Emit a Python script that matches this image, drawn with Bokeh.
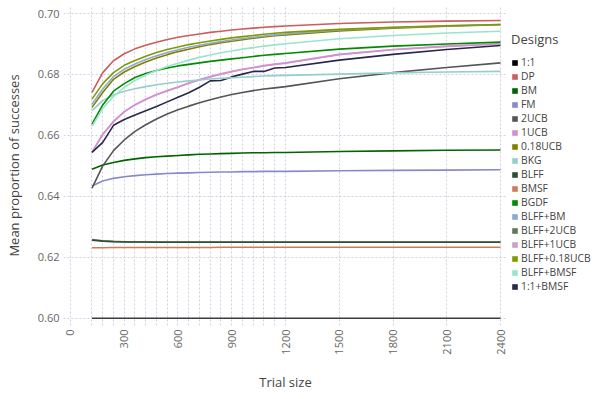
from bokeh.plotting import figure
from bokeh.layouts import row
from bokeh.models import FixedTicker, Legend, LegendItem, NumeralTickFormatter, Range1d, ColumnDataSource
from bokeh.embed import file_html
from bokeh.resources import INLINE

trial_size = [120, 180, 240, 300, 360, 420, 480, 540, 600, 660, 720, 780, 840, 900, 960, 1020, 1080, 1140, 1200, 1500, 1800, 2100, 2400]
x_ticks = [0, 300, 600, 900, 1200, 1500, 1800, 2100, 2400]
y_ticks = [0.60, 0.62, 0.64, 0.66, 0.68, 0.70]

s_1_1 = [0.600, 0.600, 0.600, 0.600, 0.600, 0.600, 0.600, 0.600, 0.600, 0.600, 0.600, 0.600, 0.600, 0.600, 0.600, 0.600, 0.600, 0.600, 0.600, 0.600, 0.600, 0.600, 0.600]
s_dp = [0.6741, 0.6806, 0.6845, 0.6868, 0.6884, 0.6896, 0.6906, 0.6915, 0.6922, 0.6928, 0.6933, 0.6938, 0.6942, 0.6946, 0.6949, 0.6952, 0.6955, 0.6957, 0.6959, 0.6967, 0.6972, 0.6975, 0.6977]
s_bm = [0.6489, 0.6503, 0.6511, 0.6518, 0.6523, 0.6527, 0.6530, 0.6532, 0.6534, 0.6536, 0.6538, 0.6539, 0.6540, 0.6541, 0.6542, 0.6543, 0.6543, 0.6544, 0.6544, 0.6547, 0.6549, 0.6551, 0.6552]
s_fm = [0.6434, 0.6450, 0.6459, 0.6464, 0.6468, 0.6471, 0.6473, 0.6475, 0.6476, 0.6477, 0.6478, 0.6479, 0.6480, 0.6480, 0.6481, 0.6481, 0.6482, 0.6482, 0.6482, 0.6484, 0.6485, 0.6486, 0.6487]
s_2ucb = [0.6427, 0.6500, 0.6550, 0.6585, 0.6613, 0.6635, 0.6654, 0.6670, 0.6684, 0.6696, 0.6707, 0.6717, 0.6726, 0.6734, 0.6741, 0.6747, 0.6752, 0.6756, 0.6760, 0.6786, 0.6806, 0.6823, 0.6838]
s_1ucb = [0.6544, 0.6603, 0.6645, 0.6677, 0.6700, 0.6718, 0.6733, 0.6746, 0.6758, 0.6771, 0.6782, 0.6792, 0.6801, 0.6809, 0.6816, 0.6822, 0.6828, 0.6833, 0.6837, 0.6865, 0.6881, 0.6892, 0.6900]
s_018ucb = [0.6692, 0.6741, 0.6784, 0.6808, 0.6826, 0.6841, 0.6854, 0.6865, 0.6875, 0.6883, 0.6891, 0.6898, 0.6904, 0.6909, 0.6914, 0.6919, 0.6923, 0.6927, 0.6930, 0.6943, 0.6952, 0.6958, 0.6963]
s_bkg = [0.6681, 0.6714, 0.6733, 0.6745, 0.6753, 0.6760, 0.6766, 0.6771, 0.6775, 0.6779, 0.6782, 0.6785, 0.6787, 0.6789, 0.6791, 0.6793, 0.6795, 0.6796, 0.6797, 0.6801, 0.6805, 0.6808, 0.6810]
s_blff = [0.6256, 0.6253, 0.6251, 0.6250, 0.6250, 0.6250, 0.6249, 0.6249, 0.6249, 0.6249, 0.6249, 0.6249, 0.6249, 0.6249, 0.6249, 0.6249, 0.6249, 0.6249, 0.6249, 0.6249, 0.6249, 0.6249, 0.6249]
s_bmsf = [0.6231, 0.6231, 0.6232, 0.6232, 0.6232, 0.6232, 0.6232, 0.6232, 0.6232, 0.6232, 0.6232, 0.6232, 0.6233, 0.6233, 0.6233, 0.6233, 0.6233, 0.6233, 0.6233, 0.6233, 0.6233, 0.6233, 0.6233]
s_bgdf = [0.6637, 0.6700, 0.6745, 0.6770, 0.6790, 0.6803, 0.6813, 0.6821, 0.6828, 0.6833, 0.6838, 0.6843, 0.6847, 0.6851, 0.6855, 0.6859, 0.6863, 0.6866, 0.6869, 0.6883, 0.6893, 0.6900, 0.6906]
s_blff_bm = [0.6702, 0.6752, 0.6793, 0.6817, 0.6834, 0.6849, 0.6861, 0.6872, 0.6881, 0.6889, 0.6896, 0.6902, 0.6908, 0.6913, 0.6918, 0.6922, 0.6926, 0.6930, 0.6933, 0.6946, 0.6954, 0.6960, 0.6964]
s_blff_2ucb = [0.6258, 0.6254, 0.6252, 0.6251, 0.6250, 0.6250, 0.6250, 0.6250, 0.6250, 0.6250, 0.6250, 0.6250, 0.6250, 0.6250, 0.6250, 0.6250, 0.6250, 0.6250, 0.6250, 0.6250, 0.6250, 0.6250, 0.6250]
s_blff_1ucb = [0.6545, 0.6604, 0.6646, 0.6678, 0.6701, 0.6719, 0.6734, 0.6747, 0.6759, 0.6772, 0.6783, 0.6793, 0.6802, 0.6810, 0.6817, 0.6823, 0.6829, 0.6834, 0.6838, 0.6866, 0.6882, 0.6893, 0.6901]
s_blff_018ucb = [0.6719, 0.6770, 0.6806, 0.6830, 0.6846, 0.6860, 0.6872, 0.6882, 0.6890, 0.6898, 0.6904, 0.6910, 0.6915, 0.6920, 0.6924, 0.6928, 0.6932, 0.6935, 0.6938, 0.6948, 0.6955, 0.6960, 0.6964]
s_blff_bmsf = [0.6630, 0.6688, 0.6728, 0.6758, 0.6780, 0.6798, 0.6813, 0.6826, 0.6837, 0.6847, 0.6856, 0.6864, 0.6871, 0.6877, 0.6883, 0.6888, 0.6893, 0.6897, 0.6901, 0.6917, 0.6928, 0.6936, 0.6942]
s_11_bmsf = [0.6544, 0.6577, 0.6633, 0.6652, 0.6667, 0.6681, 0.6695, 0.6710, 0.6725, 0.6740, 0.6758, 0.6779, 0.6780, 0.6792, 0.6801, 0.6810, 0.6810, 0.6821, 0.6823, 0.6847, 0.6866, 0.6882, 0.6895]

designs = ["1:1", "DP", "BM", "FM", "2UCB", "1UCB", "0.18UCB", "BKG", "BLFF", "BMSF", "BGDF",
           "BLFF+BM", "BLFF+2UCB", "BLFF+1UCB", "BLFF+0.18UCB", "BLFF+BMSF", "1:1+BMSF"]
colors = ["#000000", "#CD5C5C", "#006400", "#8888CC", "#555555", "#D48FD4", "#808000", "#96CDCD",
          "#2F4F2F", "#CD7B5C", "#008B00", "#8EA9D4", "#5A7A5A", "#C8A2C8", "#7F9A00", "#98E5CC", "#282848"]
values = [s_1_1, s_dp, s_bm, s_fm, s_2ucb, s_1ucb, s_018ucb, s_bkg, s_blff, s_bmsf, s_bgdf,
          s_blff_bm, s_blff_2ucb, s_blff_1ucb, s_blff_018ucb, s_blff_bmsf, s_11_bmsf]
draw_order = ["1:1", "BMSF", "BLFF+2UCB", "BLFF", "FM", "BM", "2UCB", "BLFF+1UCB", "1UCB", "1:1+BMSF",
              "BKG", "BGDF", "BLFF+BMSF", "0.18UCB", "BLFF+BM", "BLFF+0.18UCB", "DP"]

FONT = "Open Sans"
p = figure(width=507, height=399, output_backend="svg", toolbar_location=None,
           x_range=Range1d(-39, 2439), y_range=Range1d(0.5976, 0.70263),
           min_border_left=63, min_border_right=0, min_border_top=5, min_border_bottom=74)
p.outline_line_color = None
p.background_fill_color = "white"
p.border_fill_color = "white"

grid_x = sorted(set(x_ticks + trial_size))
p.xgrid.ticker = FixedTicker(ticks=grid_x)
p.ygrid.ticker = FixedTicker(ticks=y_ticks)
for g in (p.xgrid, p.ygrid):
    g.grid_line_color = "#cfcfe0"
    g.grid_line_dash = "2 2"
    g.grid_line_width = 1

p.xaxis.ticker = FixedTicker(ticks=x_ticks)
p.yaxis.ticker = FixedTicker(ticks=y_ticks)
p.yaxis.formatter = NumeralTickFormatter(format="0.00")
p.xaxis.major_label_orientation = 3.14159265 / 2
for ax in (p.xaxis, p.yaxis):
    ax.axis_line_color = None
    ax.major_tick_line_color = None
    ax.minor_tick_line_color = None
    ax.major_tick_out = 0
    ax.minor_tick_out = 0
    ax.major_label_text_font = FONT
    ax.major_label_text_font_size = "11px"
    ax.major_label_text_color = "#666666"
    ax.major_label_standoff = 4
    ax.axis_label_text_font = FONT
    ax.axis_label_text_font_size = "13px"
    ax.axis_label_text_font_style = "normal"
    ax.axis_label_text_color = "#444444"
p.xaxis.axis_label = "Trial size"
p.yaxis.axis_label = "Mean proportion of successes"
p.xaxis.axis_label_standoff = 15
p.yaxis.axis_label_standoff = 12

for name in draw_order:
    i = designs.index(name)
    p.line(trial_size, values[i], line_color=colors[i], line_width=1.6,
           line_alpha=0.75 if name == "1:1" else 1.0)

# legend panel
lg = figure(width=91, height=399, output_backend="svg", toolbar_location=None,
            x_axis_type=None, y_axis_type=None, x_range=Range1d(0, 1), y_range=Range1d(0, 1),
            min_border=0, min_border_left=0, min_border_right=0, min_border_top=0, min_border_bottom=0)
lg.outline_line_color = None
lg.background_fill_color = "white"
lg.border_fill_color = "white"

nan = float("nan")
items = []
for name, col in zip(designs, colors):
    src = ColumnDataSource(data=dict(left=[nan], right=[nan], top=[nan], bottom=[nan]))
    r = lg.quad(left="left", right="right", top="top", bottom="bottom", source=src,
                fill_color=col, line_color=None)
    items.append(LegendItem(label=name, renderers=[r]))

legend = Legend(items=items, location=(4, 32), title="Designs",
                title_text_font=FONT, title_text_font_size="13px", title_text_color="#444444",
                title_text_font_style="normal", title_standoff=7,
                label_text_font=FONT, label_text_font_size="10.3px", label_text_color="#444444",
                glyph_width=7, glyph_height=7, label_height=14, label_standoff=3,
                spacing=0, padding=0, margin=0, border_line_color=None, background_fill_alpha=0)
lg.add_layout(legend, "center")

layout = row(p, lg)
open("out.html", "w").write(file_html(layout, INLINE))
